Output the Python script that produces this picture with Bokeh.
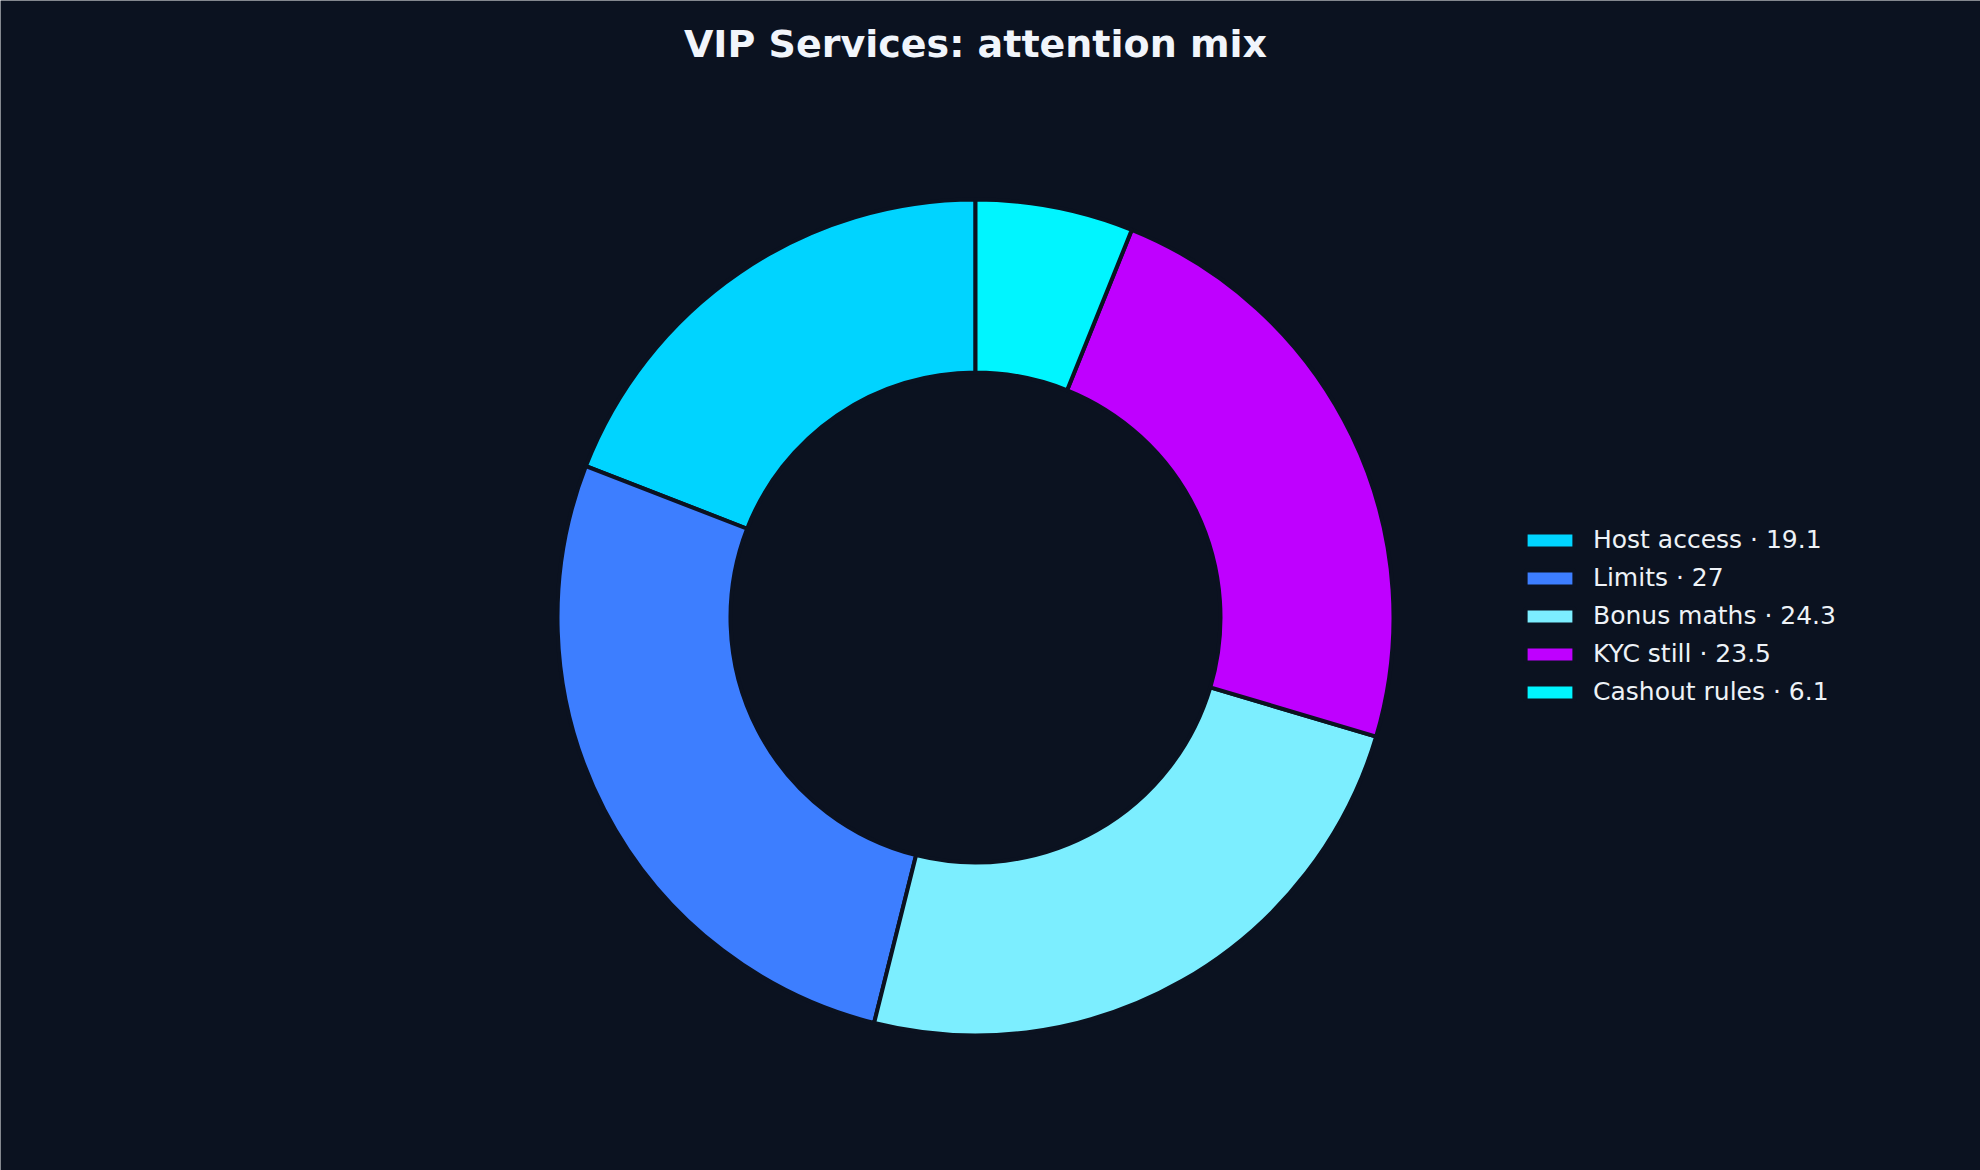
import math
from bokeh.plotting import figure
from bokeh.models import Label, Legend, LegendItem, ColumnDataSource
from bokeh.embed import file_html
from bokeh.resources import INLINE

# data
labels = ["Host access", "Limits", "Bonus maths", "KYC still", "Cashout rules"]
shares = [19.1, 27, 24.3, 23.5, 6.1]
colors = ["#00d4ff", "#3d7eff", "#7ceeff", "#bf00ff", "#00f5ff"]

bg = "#0b1220"
W, H = 1980, 1170

# angles: start at top, counter-clockwise
total = sum(shares)
starts, ends = [], []
a = math.pi / 2
for v in shares:
    starts.append(a)
    a += v / total * 2 * math.pi
    ends.append(a)

src = ColumnDataSource(dict(label=labels, share=shares, color=colors,
                            start=starts, end=ends))

p = figure(width=W, height=H, x_range=(0, W), y_range=(0, H),
           output_backend="svg", toolbar_location=None,
           min_border=0, background_fill_color=bg, border_fill_color=bg)
p.axis.visible = False
p.grid.visible = False
p.outline_line_color = None

cx, cy = 975, H - 617
r_out, r_in = 418, 245

wedges = p.annular_wedge(x=cx, y=cy, inner_radius=r_in, outer_radius=r_out,
                         start_angle="start", end_angle="end",
                         fill_color="color", line_color=bg, line_width=4,
                         source=src)

items = [LegendItem(label=f"{l} \u00b7 {v:g}", renderers=[wedges], index=i)
         for i, (l, v) in enumerate(zip(labels, shares))]
legend = Legend(items=items, location=(1519, 464),
                background_fill_alpha=0, border_line_alpha=0,
                padding=0, margin=0, spacing=9,
                glyph_width=61, glyph_height=20, label_height=29,
                label_standoff=13,
                label_text_font="DejaVu Sans", label_text_font_size="25px",
                label_text_color="#eef2f7")
p.add_layout(legend)

title = Label(x=cx, y=H - 43, text="VIP Services: attention mix",
              text_align="center", text_baseline="middle",
              text_font="DejaVu Sans", text_font_size="38px",
              text_font_style="bold", text_color="#f1f5fb")
p.add_layout(title)

open("out.html", "w").write(file_html(p, INLINE))
